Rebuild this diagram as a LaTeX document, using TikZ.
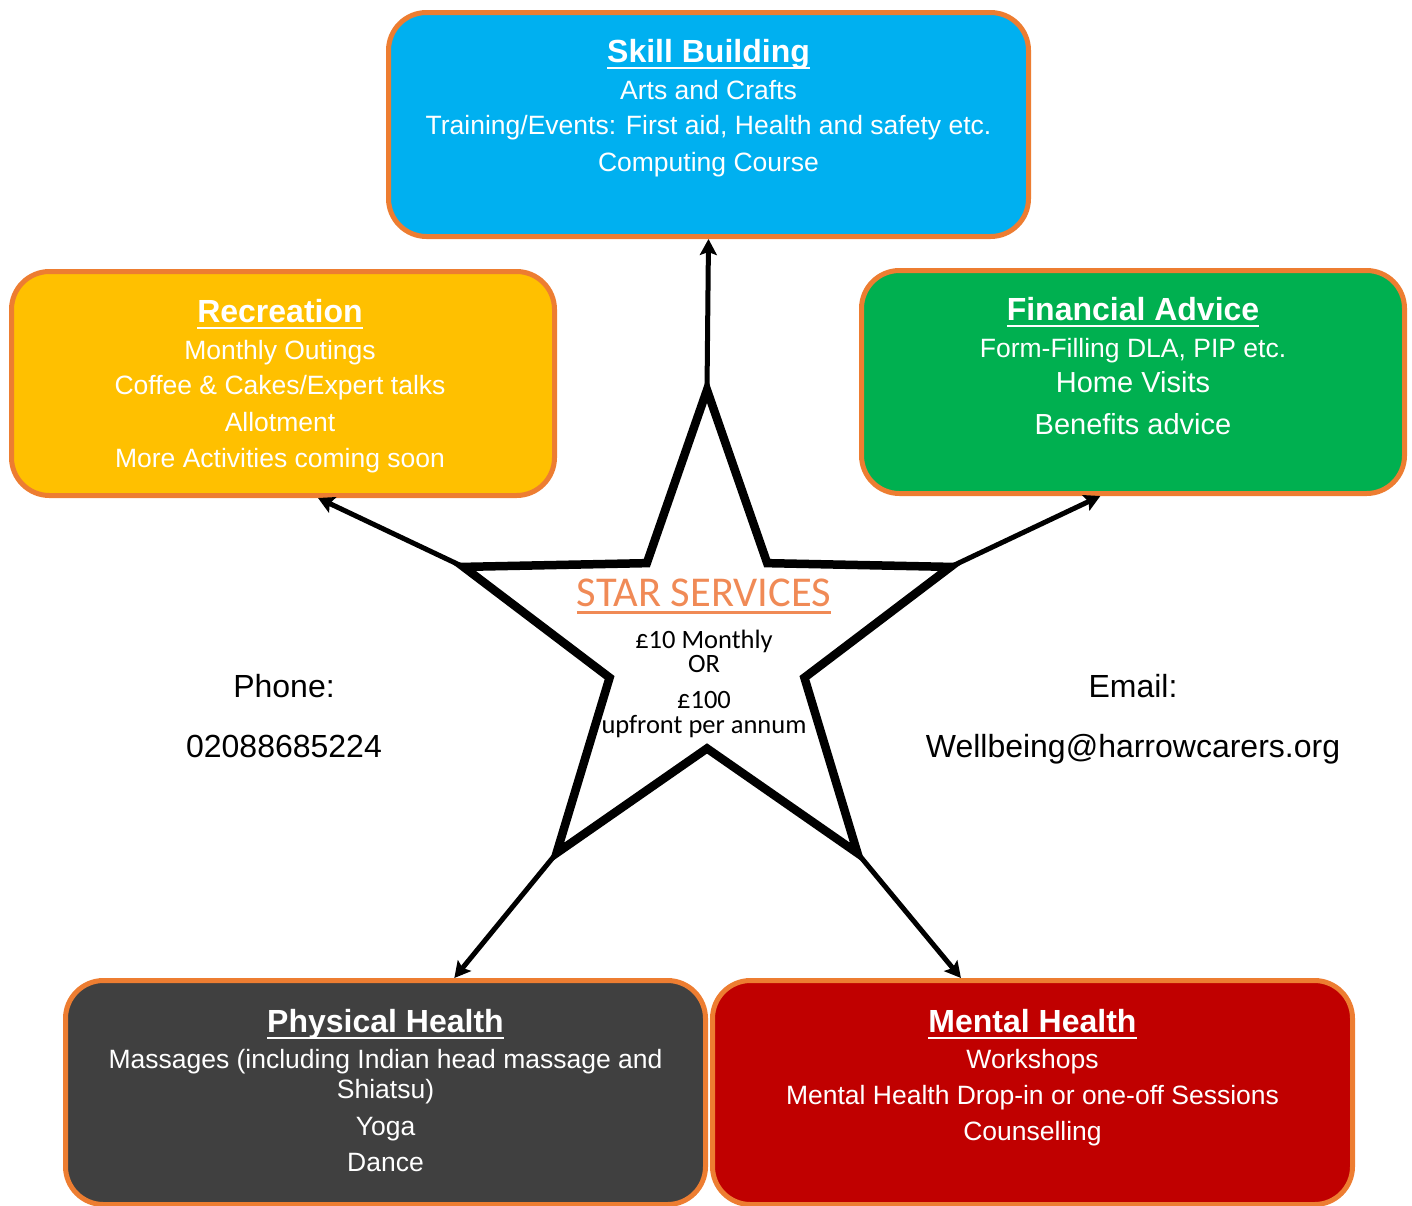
\documentclass[tikz,border=0pt]{standalone}
\usepackage{fontspec}
\setmainfont{Liberation Sans}
\newfontfamily\calibri{Carlito}
\usepackage{tikz}
\usetikzlibrary{shapes.geometric, arrows.meta, positioning}
\definecolor{boxedge}{HTML}{ED7D31}
\definecolor{skillblue}{HTML}{00B0F0}
\definecolor{recyellow}{HTML}{FFC000}
\definecolor{fingreen}{HTML}{00B050}
\definecolor{physgrey}{HTML}{404040}
\definecolor{mentalred}{HTML}{C00000}
\definecolor{starorange}{RGB}{240,138,86}
\newcommand{\ulhead}[1]{\setbox0\hbox{#1}\rlap{\rule[-7pt]{\wd0}{2.5pt}}\box0}
\newcommand{\boxtitle}[1]{\ulhead{\bfseries\fontsize{32}{30}\selectfont #1}}
\tikzstyle{service} = [rectangle, rounded corners=38pt, minimum width=640pt, minimum height=224pt, draw=boxedge, line width=5pt]
\tikzstyle{servicetext} = [text=white, align=center, inner sep=0pt, font=\fontsize{26.5}{30}\selectfont]
\tikzstyle{contact} = [align=center, inner sep=0pt, font=\fontsize{32}{60}\selectfont]
\tikzstyle{arrow} = [line width=5pt, -{Stealth[length=16pt,width=17pt,inset=3pt]}]
\begin{document}
\begin{tikzpicture}[x=1pt, y=-1pt]
    \useasboundingbox (0,0) rectangle (1412,1205);
    % service boxes
    \node (skill) [service, fill=skillblue] at (708.5,124.5) {};
    \node (recr) [service, fill=recyellow, minimum width=543pt] at (283,383.5) {};
    \node (finance) [service, fill=fingreen, minimum width=543pt, minimum height=223pt] at (1133,382) {};
    \node (physical) [service, fill=physgrey] at (385.5,1092.5) {};
    \node (mental) [service, fill=mentalred] at (1032.5,1092.5) {};
    \node (skilltxt) [servicetext, below=29pt of skill.north] {\boxtitle{Skill Building}\\[7pt] Arts and Crafts\\[5pt] Training/Events: First aid, Health and safety etc.\\[7pt] Computing Course};
    \node (recrtxt) [servicetext, below=30pt of recr.north, xshift=-3pt] {\boxtitle{Recreation}\\[7pt] Monthly Outings\\[5pt] Coffee \& Cakes/Expert talks\\[7pt] Allotment\\[6pt] More Activities coming soon};
    \node (financetxt) [servicetext, below=29pt of finance.north] {\boxtitle{Financial Advice}\\[7pt] Form-Filling DLA, PIP etc.\\[5pt] {\fontsize{29}{30}\selectfont Home Visits}\\[12pt] {\fontsize{29}{30}\selectfont Benefits advice}};
    \node (physicaltxt) [servicetext, below=31pt of physical.north] {\boxtitle{Physical Health}\\[6pt] Massages (including Indian head massage and\\ Shiatsu)\\[7pt] Yoga\\[6pt] Dance};
    \node (mentaltxt) [servicetext, below=31pt of mental.north] {\boxtitle{Mental Health}\\[6pt] Workshops\\[6pt] Mental Health Drop-in or one-off Sessions\\[6pt] Counselling};
    % the star
    \node (star) [star, star points=5, star point ratio=2.5, minimum size=512pt, draw, line width=8.5pt, inner sep=0pt, outer sep=0pt] at (707,646) {};
    \node (startxt) [anchor=north, align=center, inner sep=0pt, font=\calibri\fontsize{26.5}{24}\selectfont] at (704,579) {{\color{starorange}\ulhead{\fontsize{42.5}{24}\selectfont STAR SERVICES}}\\[15pt] \pounds10 Monthly\hspace{8pt}\\ OR\hspace{18pt}\\[12pt] \pounds100\\[1pt] upfront per annum};
    % contact details
    \node (phone) [contact] at (284,716) {Phone:\\02088685224};
    \node (email) [contact] at (1133,719) {Email:\\Wellbeing@harrowcarers.org};
    % arrows out of the star
    \draw [arrow] (star.outer point 1) -- (skill.south);
    \draw [arrow] (star.outer point 2) -- (recr.-73.5);
    \draw [arrow] (star.outer point 5) -- (finance.-106.6);
    \draw [arrow] (star.outer point 3) -- (physical.59.5);
    \draw [arrow] (star.outer point 4) -- (mental.122.4);
\end{tikzpicture}
\end{document}
